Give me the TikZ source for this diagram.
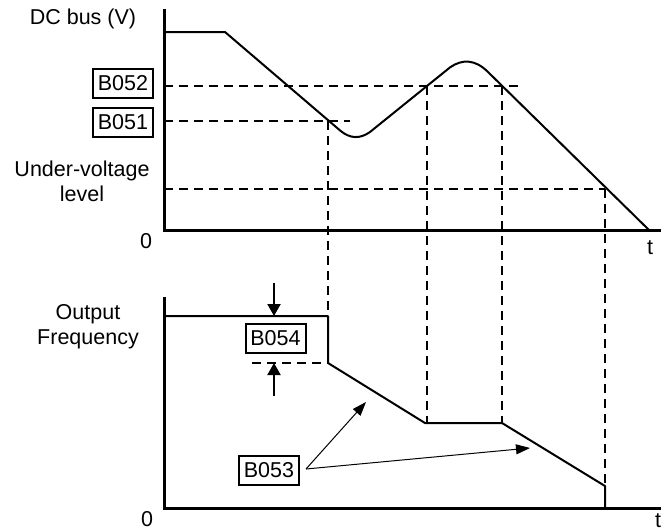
\documentclass[tikz,border=0pt]{standalone}
\usepackage{fontspec}
\setmainfont{Liberation Sans}
\usetikzlibrary{arrows.meta}
\begin{document}
\begin{tikzpicture}[x=1pt,y=-1pt,
  axis/.style={line width=3pt},
  curve/.style={line width=2pt, line join=round},
  guide/.style={line width=2pt, dash pattern=on 9pt off 6pt},
  lbl/.style={font=\fontsize{21.5}{25}\selectfont, inner sep=0},
  param/.style={draw, line width=2pt, font=\fontsize{21.5}{25}\selectfont, minimum width=60pt, minimum height=29pt, inner sep=0},
  thinarrow/.style={line width=1pt, -{Triangle[length=14pt,width=10pt]}},
  bar/.style={line width=2pt, -{Triangle[length=12pt,width=13pt]}}
]
\useasboundingbox (0,0) rectangle (661,531);
% axes
\draw[axis] (164,9) -- (164,230) -- (661,230);
\draw[axis] (164,297) -- (164,508) -- (661,508);
% guides
\draw[guide] (164,86) -- (522,86);
\draw[guide] (164,121) -- (350,121);
\draw[guide] (164,189) -- (605,189);
\draw[guide] (328,121) -- (328,316);
\draw[guide] (427,86) -- (427,423);
\draw[guide] (502,86) -- (502,423);
\draw[guide] (605,189) -- (605,486);
\draw[guide] (252,363) -- (328,363);
% DC bus curve
\draw[curve] (164,32) -- (225,32) -- (340,130.4) .. controls (350,139) and (360,139) .. (370,132) -- (450,67.4) .. controls (462,59) and (475,59) .. (488,72) -- (649,230);
% output frequency
\draw[curve] (164,316) -- (328,316) -- (328,363) -- (425,423) -- (502,423) -- (605,486) -- (605,508);
% labels
\node[lbl] (dcbus) at (83,19) {DC bus (V)};
\node[param] (b052) at (123,83) {B052};
\node[param] (b051) at (123,122) {B051};
\node[lbl, align=center] (uv) at (82,181) {Under-voltage\\level};
\node[lbl] (zero1) at (146,241) {0};
\node[lbl] (t1) at (650,248) {t};
\node[lbl, align=center] (of) at (88,327) {Output\\Frequency};
\node[lbl] (zero2) at (147,519) {0};
\node[lbl] (t2) at (658,521) {t};
\node[param] (b054) at (275.5,338) {B054};
\node[param] (b053) at (269,470) {B053};
% B054 arrows
\coordinate (dtop) at (274,283);
\coordinate (dtip) at (274,316);
\coordinate (ubot) at (274,396);
\coordinate (utip) at (274,363);
\draw[bar] (dtop) -- (dtip);
\draw[bar] (ubot) -- (utip);
% B053 arrows
\coordinate (src) at (306,469);
\coordinate (tgt1) at (366,402);
\coordinate (tgt2) at (530,448);
\draw[thinarrow] (src) -- (tgt1);
\draw[thinarrow] (src) -- (tgt2);
\end{tikzpicture}
\end{document}
